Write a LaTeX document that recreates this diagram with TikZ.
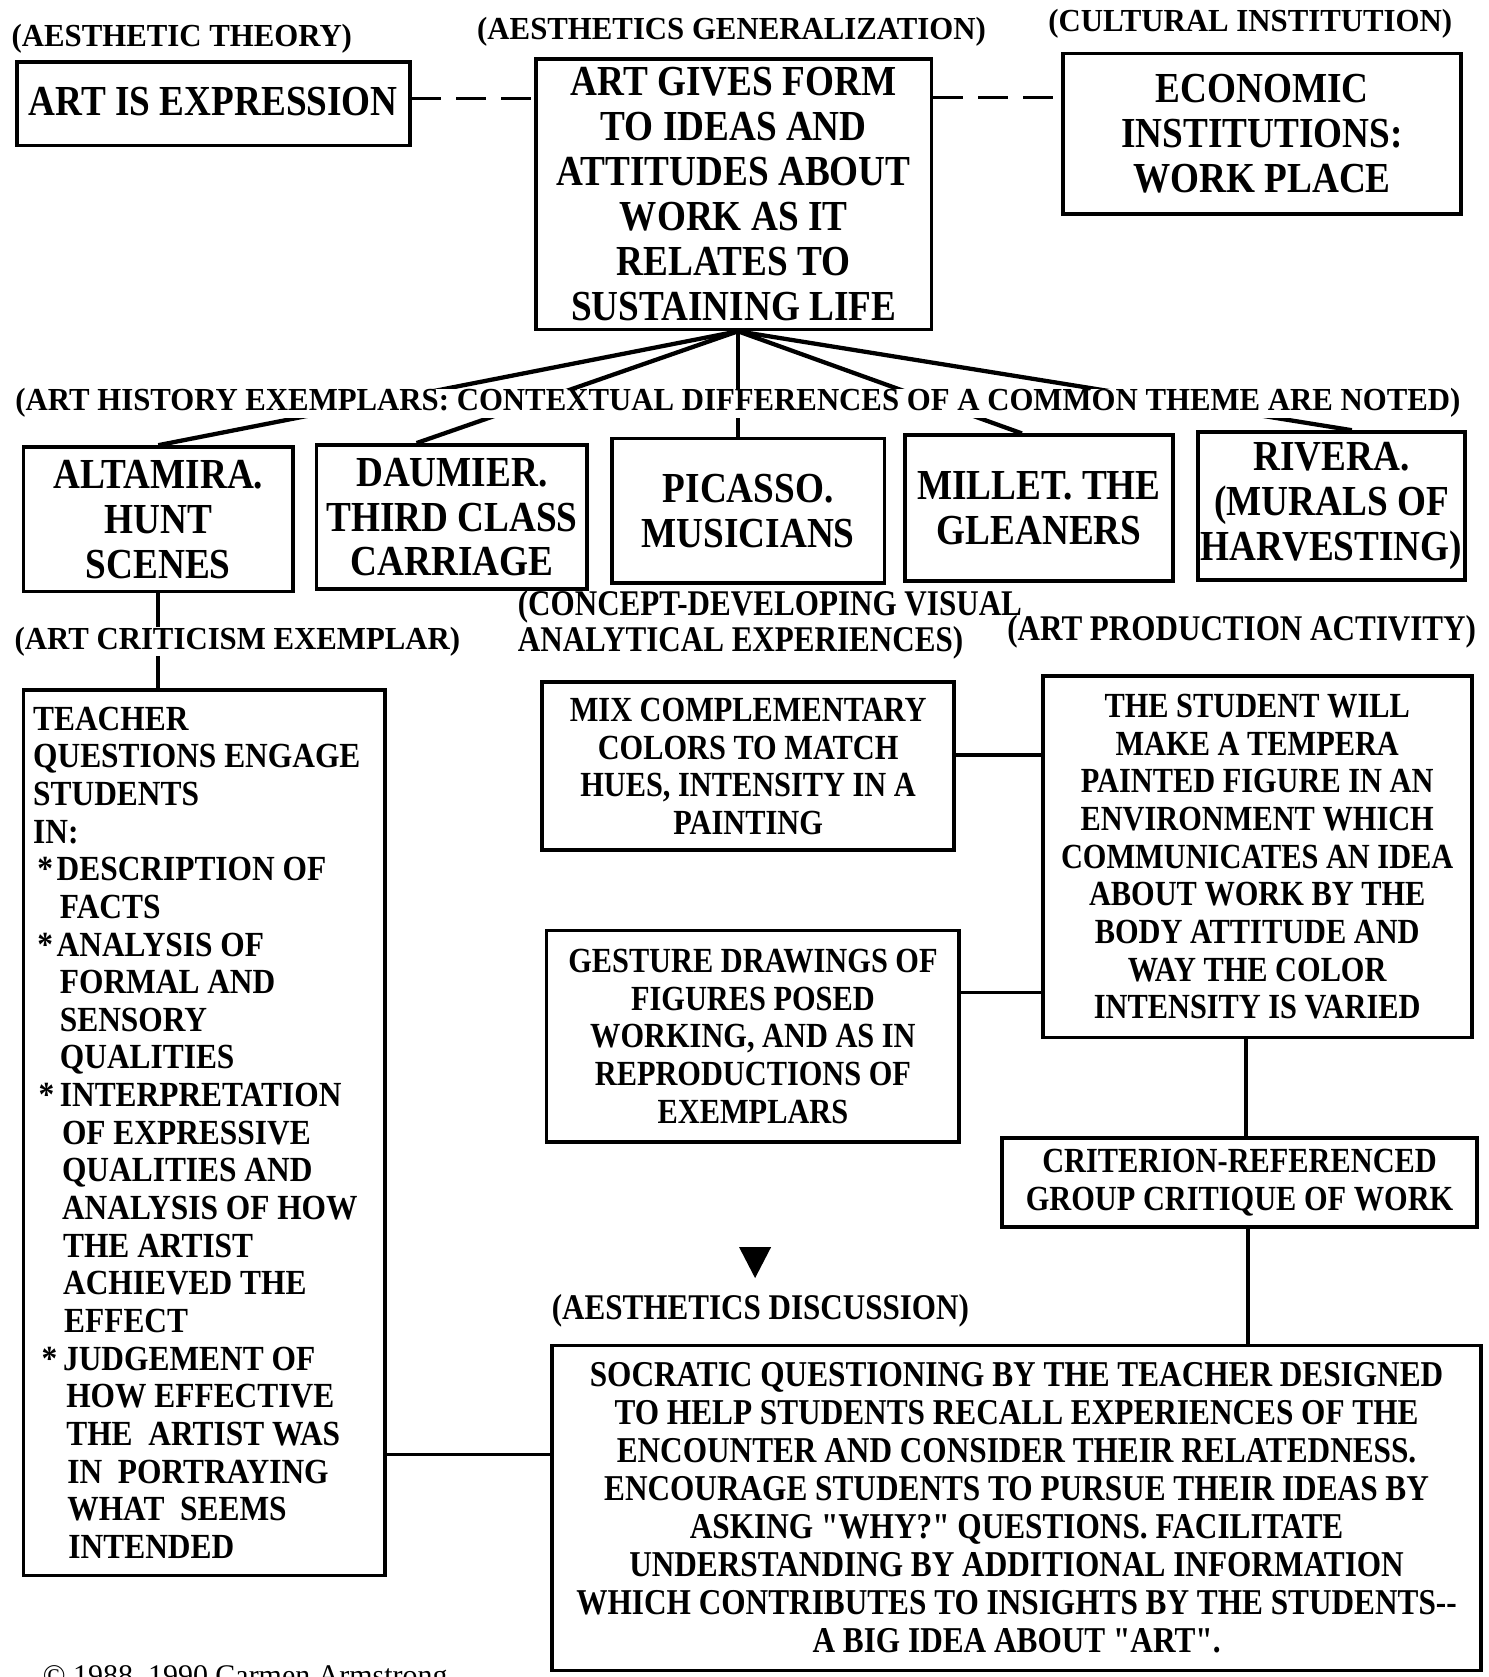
\documentclass[tikz,border=0pt]{standalone}
\usepackage{fontspec}
\setmainfont{Liberation Serif}
\newfontfamily\fbig[FakeStretch=0.87]{Liberation Serif}
\newfontfamily\fmid[FakeStretch=0.86]{Liberation Serif}
\newfontfamily\fteach[FakeStretch=0.89]{Liberation Serif}
\newfontfamily\flab[FakeStretch=0.96]{Liberation Serif}
\begin{document}
\begin{tikzpicture}[x=1pt,y=-1pt,
  box/.style={draw, line width=3.5pt, inner sep=0pt, align=center},
  bigf/.style={font={\fbig\bfseries\fontsize{40}{42}\selectfont}},
  midf/.style={font={\fmid\bfseries\fontsize{33}{35.2}\selectfont}},
  socf/.style={font={\fmid\bfseries\fontsize{34}{35.5}\selectfont}},
  teachf/.style={font={\fteach\bfseries\fontsize{33}{35.2}\selectfont}},
  lab/.style={inner sep=0pt, font={\flab\bfseries\fontsize{30}{34}\selectfont}},
  labmid/.style={inner sep=0pt, font={\fmid\bfseries\fontsize{33.8}{34}\selectfont}},
  conn/.style={line width=3.5pt},
  fan/.style={line width=4pt},
  dashconn/.style={line width=3pt, dash pattern=on 28pt off 14pt}]
\useasboundingbox (0,0) rectangle (1392,1568);

% top row labels
\node[lab] (tTheory) at (170,36) {(AESTHETIC THEORY)};
\node[lab] (tGen) at (684,30) {(AESTHETICS GENERALIZATION)};
\node[lab] (tCult) at (1169,22) {(CULTURAL INSTITUTION)};

% top row boxes
\node[box, bigf, minimum width=367pt, minimum height=78pt] (expr) at (199.5,97) {\raisebox{5pt}{ART IS EXPRESSION}};
\node[box, bigf, minimum width=370pt, minimum height=253pt] (gen) at (686,181.5)
  {ART GIVES FORM\\TO IDEAS AND\\ATTITUDES ABOUT\\WORK AS IT\\RELATES TO\\SUSTAINING LIFE};
\node[box, bigf, minimum width=372pt, minimum height=150pt] (econ) at (1180,125)
  {ECONOMIC\\INSTITUTIONS:\\WORK PLACE};

\draw[dashconn] ([yshift=5pt]expr.east) -- ([yshift=5pt]expr.east -| gen.west);
\draw[dashconn] (gen.east |- 0,91) -- (econ.west |- 0,91);

% art history exemplars
\node[box, bigf, minimum width=252pt, minimum height=135pt] (alt) at (148,485.5)
  {ALTAMIRA.\\HUNT\\SCENES};
\node[box, bigf, minimum width=253pt, minimum height=135pt] (dau) at (422.5,483.5)
  {DAUMIER.\\THIRD CLASS\\CARRIAGE};
\node[box, bigf, minimum width=255pt, minimum height=135pt] (pic) at (699.5,477.5)
  {PICASSO.\\MUSICIANS};
\node[box, bigf, minimum width=251pt, minimum height=136pt] (mil) at (971.5,475)
  {MILLET. THE\\GLEANERS};
\node[box, bigf, minimum width=250pt, minimum height=138pt] (riv) at (1245,473)
  {RIVERA.\\(MURALS OF\\HARVESTING)};

\coordinate (hub) at ([xshift=4pt]gen.south);
\draw[fan] (hub) -- (alt.north);
\draw[fan] (hub) -- ([xshift=-33pt]dau.north);
\draw[fan] (hub) -- (hub |- pic.north);
\draw[fan] (hub) -- ([xshift=-16pt]mil.north);
\draw[fan] (hub) -- ([xshift=19pt]riv.north);
\node[lab, fill=white] (tHist) at (690,377)
  {(ART HISTORY EXEMPLARS: CONTEXTUAL DIFFERENCES OF A COMMON THEME ARE NOTED)};

% art criticism
\node[box, teachf, minimum width=338pt, minimum height=828pt, text width=320pt, inner xsep=9pt, align=flush left] (teach) at (191,1059)
  {TEACHER\\
   QUESTIONS ENGAGE\\
   STUDENTS\\
   IN:\\
   \makebox[22pt][l]{\hspace{4pt}*}DESCRIPTION OF\\
   \hspace*{25pt}FACTS\\
   \makebox[22pt][l]{\hspace{4pt}*}ANALYSIS OF\\
   \hspace*{25pt}FORMAL AND\\
   \hspace*{25pt}SENSORY\\
   \hspace*{25pt}QUALITIES\\
   \makebox[25pt][l]{\hspace{5pt}*}INTERPRETATION\\
   \hspace*{27pt}OF EXPRESSIVE\\
   \hspace*{27pt}QUALITIES AND\\
   \hspace*{27pt}ANALYSIS OF HOW\\
   \hspace*{28pt}THE ARTIST\\
   \hspace*{28pt}ACHIEVED THE\\
   \hspace*{29pt}EFFECT\\
   \makebox[28pt][l]{\hspace{8pt}*}JUDGEMENT OF\\
   \hspace*{31pt}HOW EFFECTIVE\\
   \hspace*{31pt}THE\ \ ARTIST WAS\\
   \hspace*{32pt}IN\ \ PORTRAYING\\
   \hspace*{32pt}WHAT\ \ SEEMS\\
   \hspace*{33pt}INTENDED};
\draw[conn] (alt.south) -- (alt.south |- teach.north);
\node[lab, fill=white] (tCrit) at (222,600) {(ART CRITICISM EXEMPLAR)};

% concept developing / production
\node[labmid, anchor=west, align=left] (tConcept) at (484,584)
  {(CONCEPT-DEVELOPING VISUAL\\ANALYTICAL EXPERIENCES)};
\node[labmid] (tProd) at (1161,591) {(ART PRODUCTION ACTIVITY)};

\node[box, midf, minimum width=385pt, minimum height=157pt] (mix) at (699.5,716.5)
  {MIX COMPLEMENTARY\\COLORS TO MATCH\\HUES, INTENSITY IN A\\PAINTING};
\node[box, midf, minimum width=401pt, minimum height=338pt] (temp) at (1175.5,801)
  {THE STUDENT WILL\\MAKE A TEMPERA\\PAINTED FIGURE IN AN\\ENVIRONMENT WHICH\\COMMUNICATES AN IDEA\\ABOUT WORK BY THE\\BODY ATTITUDE AND\\WAY THE COLOR\\INTENSITY IS VARIED};
\node[box, midf, minimum width=386pt, minimum height=198pt] (gest) at (704,969)
  {GESTURE DRAWINGS OF\\FIGURES POSED\\WORKING, AND AS IN\\REPRODUCTIONS OF\\EXEMPLARS};
\node[box, midf, minimum width=444pt, minimum height=83pt] (crit) at (1159,1105.5)
  {CRITERION-REFERENCED\\GROUP CRITIQUE OF WORK};

\draw[conn] (mix.east |- 0,706) -- (temp.west |- 0,706);
\draw[conn] (gest.east |- 0,928) -- (temp.west |- 0,928);
\draw[conn] (temp.south -| 1165,0) -- (crit.north -| 1165,0);

% aesthetics discussion
\fill (691,1166) -- (721,1166) -- (706,1195) -- cycle;
\node[labmid] (tDisc) at (711,1226) {(AESTHETICS DISCUSSION)};
\node[box, socf, minimum width=869pt, minimum height=304pt] (soc) at (950.5,1410)
  {SOCRATIC QUESTIONING BY THE TEACHER DESIGNED\\
   TO HELP STUDENTS RECALL EXPERIENCES OF THE\\
   ENCOUNTER AND CONSIDER THEIR RELATEDNESS.\\
   ENCOURAGE STUDENTS TO PURSUE THEIR IDEAS BY\\
   ASKING "WHY?" QUESTIONS. FACILITATE\\
   UNDERSTANDING BY ADDITIONAL INFORMATION\\
   WHICH CONTRIBUTES TO INSIGHTS BY THE STUDENTS-{}-\\
   A BIG IDEA ABOUT "ART".};
\draw[conn] (crit.south -| 1167,0) -- (soc.north -| 1167,0);
\draw[conn] (teach.east |- 0,1360) -- (soc.west |- 0,1360);

\node[anchor=base west, inner sep=0pt, font={\fontsize{28}{30}\selectfont}] (copy) at (40,1576) {© 1988, 1990 Carmen Armstrong};
\end{tikzpicture}
\end{document}
